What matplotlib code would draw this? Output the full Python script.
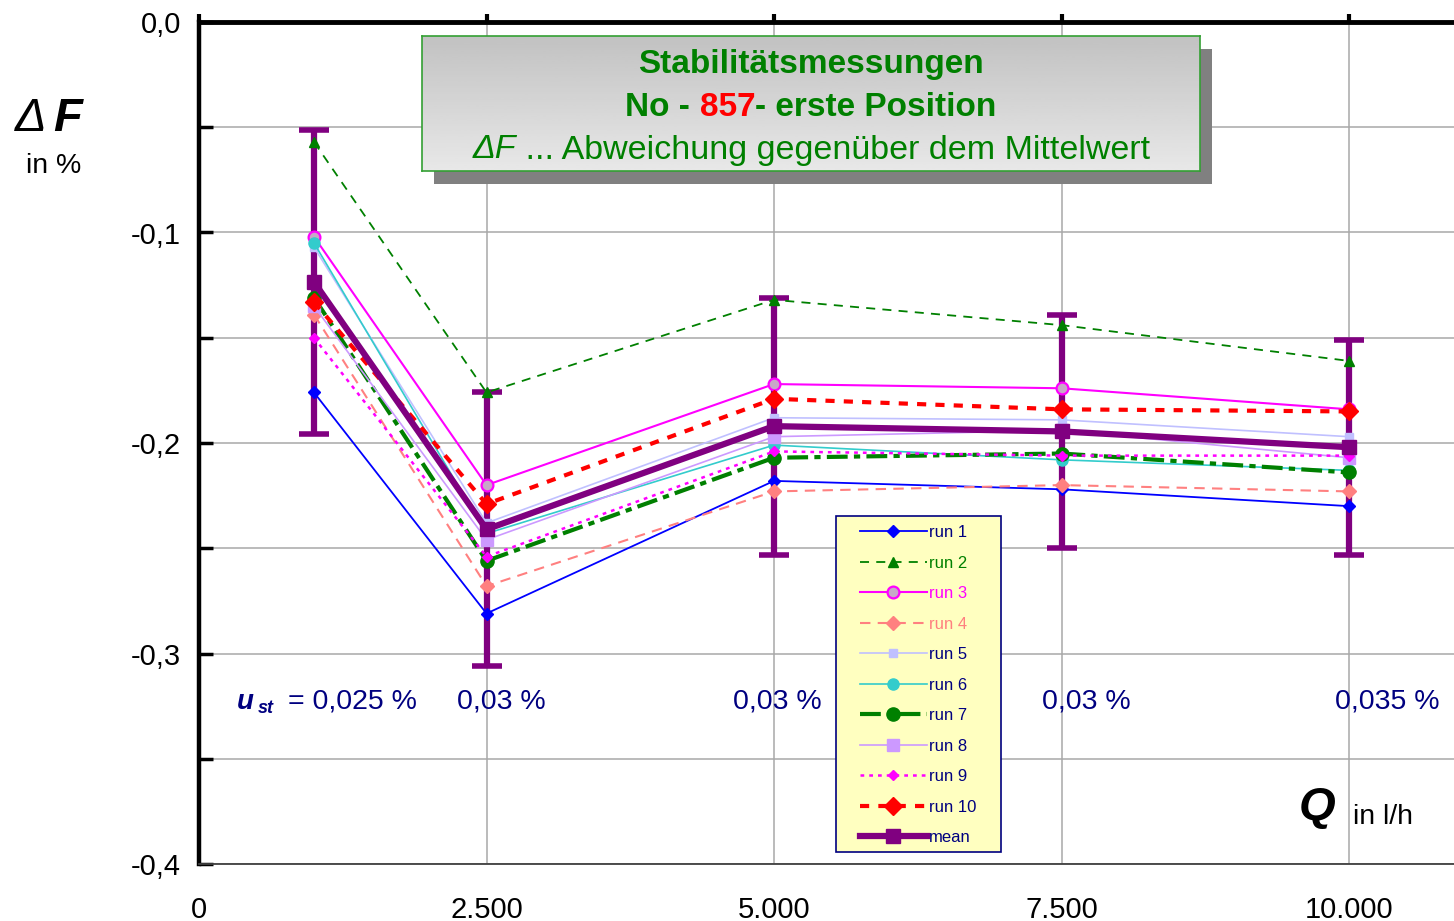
import numpy as np
import matplotlib
matplotlib.use("Agg")
import matplotlib.pyplot as plt
from matplotlib.patches import Rectangle
from matplotlib.ticker import FixedLocator, FuncFormatter

plt.rcParams["font.family"] = ["Liberation Sans", "DejaVu Sans"]

# flow rates in l/h
Q = [1000, 2500, 5000, 7500, 10000]

# deviation from the mean value in %
run1 = [-0.176, -0.281, -0.218, -0.222, -0.230]
run2 = [-0.057, -0.176, -0.132, -0.144, -0.161]
run3 = [-0.102, -0.220, -0.172, -0.174, -0.184]
run4 = [-0.139, -0.268, -0.223, -0.220, -0.223]
run5 = [-0.107, -0.238, -0.188, -0.189, -0.197]
run6 = [-0.105, -0.243, -0.201, -0.208, -0.213]
run7 = [-0.131, -0.256, -0.207, -0.205, -0.214]
run8 = [-0.135, -0.246, -0.197, -0.194, -0.207]
run9 = [-0.150, -0.254, -0.204, -0.206, -0.206]
run10 = [-0.133, -0.229, -0.179, -0.184, -0.185]
mean = [-0.1235, -0.241, -0.192, -0.1945, -0.202]
mean_err = [0.072, 0.065, 0.061, 0.0555, 0.051]

# repeatability per flow rate
u_st = ["0,025 %", "0,03 %", "0,03 %", "0,03 %", "0,035 %"]
u_st_x = [None, 2630, 5025, 7715, 10330]

NAVY = "#000080"
GREEN = "#008000"

series = [
    ("run 1", run1, dict(color="#0000FF", lw=1.3, ls="-", marker="D", ms=6,
                         mfc="#0000FF", mec="#0000FF"), NAVY),
    ("run 2", run2, dict(color=GREEN, lw=1.3, ls=(0, (5, 4)), marker="^", ms=7,
                         mfc=GREEN, mec=GREEN), GREEN),
    ("run 3", run3, dict(color="#FF00FF", lw=1.5, ls="-", marker="o", ms=8.5,
                         mfc="#C8A8C8", mec="#FF00FF", mew=1.6), "#FF00FF"),
    ("run 4", run4, dict(color="#FF8080", lw=1.5, ls=(0, (5, 3.5)), marker="D", ms=7,
                         mfc="#FF8080", mec="#FF8080"), "#FF8080"),
    ("run 5", run5, dict(color="#C0C0FF", lw=1.2, ls="-", marker="s", ms=5.5,
                         mfc="#C0C0FF", mec="#C0C0FF"), NAVY),
    ("run 6", run6, dict(color="#33CCCC", lw=1.2, ls="-", marker="o", ms=8,
                         mfc="#33CCCC", mec="#33CCCC"), NAVY),
    ("run 7", run7, dict(color=GREEN, lw=3, ls=(0, (5, 1.5, 1.5, 1.5)), marker="o",
                         ms=9.5, mfc=GREEN, mec=GREEN), NAVY),
    ("run 8", run8, dict(color="#CC99FF", lw=1.2, ls="-", marker="s", ms=8,
                         mfc="#CC99FF", mec="#CC99FF"), NAVY),
    ("run 9", run9, dict(color="#FF00FF", lw=1.8, ls=(0, (1.5, 2)), marker="D", ms=5,
                         mfc="#FF00FF", mec="#FF00FF"), NAVY),
    ("run 10", run10, dict(color="#FF0000", lw=3, ls=(0, (2.2, 2.2)), marker="D", ms=9,
                           mfc="#FF0000", mec="#FF0000"), NAVY),
]

W, H = 1454, 921
fig = plt.figure(figsize=(W / 100, H / 100), dpi=100)
fig.patch.set_facecolor("white")
ax = fig.add_axes([199 / W, 1 - 864 / H, 1265 / W, 842 / H])

ax.set_xlim(0, 11000)
ax.set_ylim(-0.4, 0.0)


def fmt_y(v, pos):
    s = f"{v:.1f}".replace(".", ",")
    return "0,0" if s == "-0,0" else s


# grid every 0.05 % and every 2.500 l/h
ax.yaxis.set_major_locator(FixedLocator(np.round(np.arange(-0.4, 0.001, 0.1), 2)))
ax.yaxis.set_minor_locator(FixedLocator(np.round(np.arange(-0.35, 0.0, 0.1), 2)))
ax.xaxis.set_major_locator(FixedLocator([0, 2500, 5000, 7500, 10000]))
ax.yaxis.set_major_formatter(FuncFormatter(fmt_y))
ax.xaxis.set_major_formatter(FuncFormatter(lambda v, p: f"{int(v):,}".replace(",", ".")))
ax.grid(True, which="both", axis="y", color="#A8A8A8", lw=1.1, zorder=0)
ax.grid(True, which="major", axis="x", color="#A8A8A8", lw=1.1, zorder=0)
ax.set_axisbelow(True)

ax.spines["left"].set_linewidth(3.2)
ax.spines["top"].set_linewidth(3.5)
ax.spines["bottom"].set_linewidth(1.3)
ax.spines["bottom"].set_color("#404040")
ax.spines["right"].set_visible(False)

ax.tick_params(axis="y", which="both", direction="in", length=10, width=2.5,
               labelsize=21, pad=13, right=False)
ax.tick_params(axis="x", which="major", direction="out", length=6, width=3,
               top=True, bottom=False, labeltop=False, labelbottom=True,
               labelsize=21, pad=17)

# error bars of the mean sit under the individual runs
ax.errorbar(Q, mean, yerr=mean_err, fmt="none", ecolor="#800080", elinewidth=4.5,
            capsize=11, capthick=4, zorder=2)

handles = []
for label, vals, style, _ in series:
    h, = ax.plot(Q, vals, label=label, zorder=3, **style)
    handles.append(h)

hm, = ax.plot(Q, mean, color="#800080", lw=4.5, marker="s", ms=9.5,
              mfc="#800080", mec="#800080", label="mean", zorder=4)
handles.append(hm)

# legend box drawn separately so its padding can be set freely
ax.add_patch(Rectangle((836 / W, 1 - 852 / H), 165 / W, 336 / H,
                       transform=fig.transFigure, facecolor="#FFFFC0",
                       edgecolor=NAVY, lw=1.2, clip_on=False, zorder=5.5))
leg = ax.legend(handles=handles, loc="upper left",
                bbox_to_anchor=(860 / W, 1 - 525 / H), bbox_transform=fig.transFigure,
                borderaxespad=0, borderpad=0, fontsize=12, labelspacing=0.93,
                handlelength=4.0, handletextpad=0.15, frameon=False)
leg.set_zorder(6)
text_colors = [c for *_, c in series] + [NAVY]
for txt, c in zip(leg.get_texts(), text_colors):
    txt.set_color(c)

# repeatability annotations
y_lab = -0.323
ax.text(330, y_lab, "u", fontsize=20, fontweight="bold", fontstyle="italic",
        color=NAVY, ha="left", va="center", zorder=5)
ax.annotate("st", (330, y_lab), textcoords="offset points", xytext=(15, -5),
            fontsize=13, fontweight="bold", fontstyle="italic", color=NAVY,
            ha="left", va="center", zorder=5)
ax.annotate("= " + u_st[0], (330, y_lab), textcoords="offset points", xytext=(37, 0),
            fontsize=20.5, color=NAVY, ha="left", va="center", zorder=5)
for xs, s in zip(u_st_x[1:], u_st[1:]):
    ax.text(xs, y_lab, s, fontsize=20.5, color=NAVY, ha="center", va="center", zorder=5)

# axis titles
fig.text(15 / W, 1 - 119 / H, "\u0394", fontsize=34, fontstyle="italic",
         ha="left", va="center")
fig.text(53 / W, 1 - 119 / H, "F", fontsize=34, fontweight="bold", fontstyle="italic",
         ha="left", va="center")
fig.text(54 / W, 1 - 166 / H, "in %", fontsize=20.5, ha="center", va="center")
fig.text(1317 / W, 1 - 808 / H, "Q", fontsize=34, fontweight="bold", fontstyle="italic",
         ha="center", va="center")
fig.text(1383 / W, 1 - 817 / H, "in l/h", fontsize=20.5, ha="center", va="center")

# title box with drop shadow
bx0, by0, bx1, by1 = 422, 36, 1200, 171
fig.patches.append(Rectangle(((bx0 + 12) / W, 1 - (by1 + 13) / H),
                             (bx1 - bx0) / W, (by1 - by0) / H,
                             transform=fig.transFigure, facecolor="#808080",
                             edgecolor="none", zorder=1))
tbox = fig.add_axes([bx0 / W, 1 - by1 / H, (bx1 - bx0) / W, (by1 - by0) / H])
tbox.set_zorder(5)
grad = np.linspace(0.76, 0.91, 64).reshape(-1, 1)
tbox.imshow(grad, cmap="gray", vmin=0, vmax=1, aspect="auto",
            extent=(0, 1, 0, 1), origin="upper")
tbox.set_xticks([])
tbox.set_yticks([])
for sp in tbox.spines.values():
    sp.set_color("#33A033")
    sp.set_linewidth(1.2)

renderer = fig.canvas.get_renderer()


def centered_line(ax_, y, pieces):
    """Place text pieces side by side, centred horizontally in ax_."""
    arts = [ax_.text(0, y, s, transform=ax_.transAxes, ha="left", va="center", **kw)
            for s, kw in pieces]
    widths = [a.get_window_extent(renderer).width for a in arts]
    ax_w = ax_.get_window_extent(renderer).width
    x = 0.5 - sum(widths) / ax_w / 2
    for a, w in zip(arts, widths):
        a.set_x(x)
        x += w / ax_w


title_kw = dict(fontsize=24, fontweight="bold", color=GREEN)
line_kw = dict(fontsize=24.5, color=GREEN)
centered_line(tbox, 1 - (65 - by0) / (by1 - by0), [("Stabilitätsmessungen", title_kw)])
centered_line(tbox, 1 - (107 - by0) / (by1 - by0), [
    ("No - ", title_kw),
    ("857", dict(title_kw, color="#FF0000")),
    ("- erste Position", title_kw),
])
centered_line(tbox, 1 - (150 - by0) / (by1 - by0), [
    ("\u0394F", dict(line_kw, fontstyle="italic")),
    (" ... Abweichung gegenüber dem Mittelwert", line_kw),
])

fig.savefig("out.png", dpi=100)
